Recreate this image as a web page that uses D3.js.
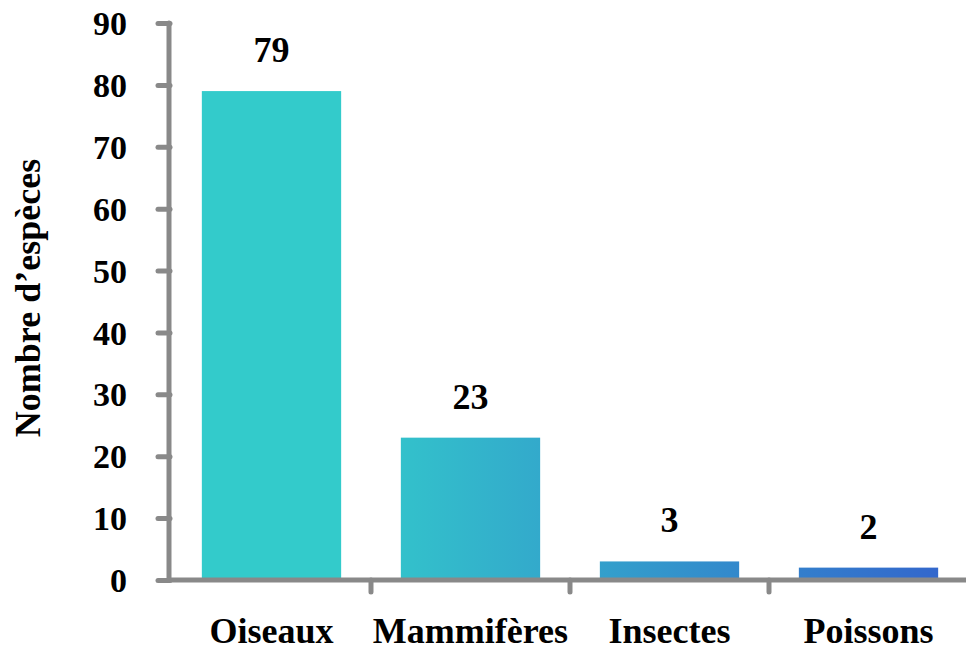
<!DOCTYPE html>
<html><head><meta charset="utf-8">
<script src="https://cdn.jsdelivr.net/npm/d3@7"></script>
<style>body{margin:0;background:#fff}svg{display:block}text{font-family:"Liberation Serif","Times New Roman",serif;font-weight:bold;fill:#000}</style>
</head><body><svg id="c" width="966" height="650"></svg>
<script>
const categories = ["Oiseaux", "Mammifères", "Insectes", "Poissons"];
const values = [79, 23, 3, 2];
const yTicks = [0, 10, 20, 30, 40, 50, 60, 70, 80, 90];
const yTitle = "Nombre d’espèces";

const svg = d3.select("#c");
const x = d3.scaleBand().domain(categories).range([170, 970]).paddingInner(0.3).paddingOuter(0.16);
const y = d3.scaleLinear().domain([0, 90]).range([580, 23]);

const defs = svg.append("defs");
const g = defs.append("linearGradient").attr("id", "grad").attr("gradientUnits", "userSpaceOnUse")
  .attr("x1", 340).attr("x2", 945).attr("y1", 0).attr("y2", 0);
g.append("stop").attr("offset", 0).attr("stop-color", "#33CBCB");
g.append("stop").attr("offset", 1).attr("stop-color", "#3366CC");

svg.selectAll("rect.bar").data(values).enter().append("rect").attr("class", "bar")
  .attr("x", (d, i) => x(categories[i]))
  .attr("width", x.bandwidth())
  .attr("y", d => y(d))
  .attr("height", d => y(0) - y(d))
  .attr("fill", "url(#grad)");

const axisColor = "#898989";
// y axis
const ya = svg.append("g").attr("transform", "translate(170,0)")
  .call(d3.axisLeft(y).tickValues(yTicks).tickSize(12).tickPadding(31));
ya.select(".domain").remove();
ya.selectAll(".tick line").attr("stroke", axisColor).attr("stroke-width", 5).attr("stroke-linecap", "round");
ya.selectAll(".tick text").attr("font-size", 34).attr("dy", "0.34em").attr("font-family", "Liberation Serif").attr("font-weight", "bold").attr("fill", "#000");
svg.append("line").attr("x1", 169).attr("x2", 169).attr("y1", y(90)).attr("y2", y(0))
  .attr("stroke", axisColor).attr("stroke-width", 5).attr("stroke-linecap", "round");

// x axis
const xa = svg.append("g").attr("transform", `translate(0,${y(0)})`)
  .call(d3.axisBottom(x).tickSize(0).tickPadding(37));
xa.select(".domain").remove();
xa.selectAll(".tick text").attr("font-size", 36).attr("font-family", "Liberation Serif").attr("font-weight", "bold").attr("fill", "#000");
svg.append("line").attr("x1", 169).attr("x2", 966).attr("y1", y(0)).attr("y2", y(0))
  .attr("stroke", axisColor).attr("stroke-width", 5);
const bounds = categories.map(c => x(c) - x.step() * x.paddingInner() / 2).concat([970]);
svg.selectAll("line.xt").data(bounds.slice(1)).enter().append("line").attr("class", "xt")
  .attr("x1", d => d).attr("x2", d => d).attr("y1", y(0)).attr("y2", y(0) + 12)
  .attr("stroke", axisColor).attr("stroke-width", 5).attr("stroke-linecap", "round");

// value labels
svg.selectAll("text.val").data(values).enter().append("text").attr("class", "val")
  .attr("x", (d, i) => x(categories[i]) + x.bandwidth() / 2)
  .attr("y", d => y(d) - 29)
  .attr("text-anchor", "middle").attr("font-size", 36).text(d => d);

// y title
svg.append("text").attr("transform", "translate(40,298) rotate(-90)")
  .attr("text-anchor", "middle").attr("font-size", 36).text(yTitle);
</script></body></html>
